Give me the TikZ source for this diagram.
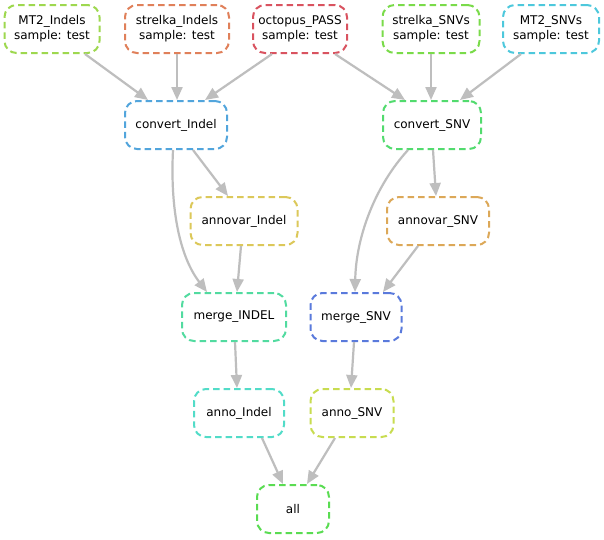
\documentclass[tikz,border=0pt]{standalone}
\usepackage{fontspec}
\setmainfont{DejaVu Sans}
\usetikzlibrary{arrows.meta}
\definecolor{cMTi}{HTML}{9ED84F}
\definecolor{cSTi}{HTML}{E0805A}
\definecolor{cOCT}{HTML}{D95360}
\definecolor{cSTs}{HTML}{7ADB4A}
\definecolor{cMTs}{HTML}{4DC8DC}
\definecolor{cCVi}{HTML}{52A5DC}
\definecolor{cCVs}{HTML}{52DB6E}
\definecolor{cAVi}{HTML}{DCC85A}
\definecolor{cAVs}{HTML}{DCA858}
\definecolor{cMGi}{HTML}{52DBA0}
\definecolor{cMGs}{HTML}{5A7ADC}
\definecolor{cANi}{HTML}{52DCC8}
\definecolor{cANs}{HTML}{C8DC50}
\definecolor{cALL}{HTML}{5ADC52}
\definecolor{edgegray}{HTML}{BEBEBE}
\tikzset{
  job/.style={draw=#1, line width=2pt, dash pattern=on 6.5pt off 4pt, rounded corners=12pt,
    minimum height=48pt, inner sep=0pt, align=center, font=\fontsize{12}{15}\selectfont},
  edge/.style={draw=edgegray, line width=2.2pt, -{Triangle[length=13pt,width=11pt]}}
}
\begin{document}
\begin{tikzpicture}[x=1pt,y=-1pt]
\path[use as bounding box, fill=white] (0,0) rectangle (604,539);
\node[job=cMTi, minimum width=95pt] (mti) at (52,29) {MT2\_Indels\\sample: test};
\node[job=cSTi, minimum width=104pt] (sti) at (177,29) {strelka\_Indels\\sample: test};
\node[job=cOCT, minimum width=94pt] (oct) at (300,29) {octopus\_PASS\\sample: test};
\node[job=cSTs, minimum width=97pt] (sts) at (431,29) {strelka\_SNVs\\sample: test};
\node[job=cMTs, minimum width=96pt] (mts) at (551,29) {MT2\_SNVs\\sample: test};
\node[job=cCVi, minimum width=102pt] (cvi) at (176,125) {convert\_Indel};
\node[job=cCVs, minimum width=98pt] (cvs) at (432,125) {convert\_SNV};
\node[job=cAVi, minimum width=107pt] (avi) at (244,221) {annovar\_Indel};
\node[job=cAVs, minimum width=102pt] (avs) at (438,221) {annovar\_SNV};
\node[job=cMGi, minimum width=104pt] (mgi) at (234,317) {merge\_INDEL};
\node[job=cMGs, minimum width=91pt] (mgs) at (356,317) {merge\_SNV};
\node[job=cANi, minimum width=90pt] (ani) at (239,413) {anno\_Indel};
\node[job=cANs, minimum width=83pt] (ans) at (352,413) {anno\_SNV};
\node[job=cALL, minimum width=72pt] (all) at (293,509) {all};

\draw[edge] ([xshift=33pt]mti.south) -- ([xshift=-28pt]cvi.north);
\draw[edge] (sti.south) -- ([xshift=1pt]cvi.north);
\draw[edge] ([xshift=-28pt]oct.south) -- ([xshift=29pt]cvi.north);
\draw[edge] ([xshift=35pt]oct.south) -- ([xshift=-27pt]cvs.north);
\draw[edge] (sts.south) -- ([xshift=-1pt]cvs.north);
\draw[edge] ([xshift=-30pt]mts.south) -- ([xshift=28pt]cvs.north);
\draw[edge] ([xshift=17pt]cvi.south) -- ([xshift=-16pt]avi.north);
\draw[edge] ([xshift=-3pt]cvi.south) .. controls ([xshift=-6pt,yshift=-60pt]cvi.south) and ([xshift=-54pt,yshift=35pt]mgi.north) .. ([xshift=-27pt]mgi.north);
\draw[edge] ([xshift=-3pt]avi.south) -- ([xshift=3pt]mgi.north);
\draw[edge] ([xshift=1pt]cvs.south) -- ([xshift=-2pt]avs.north);
\draw[edge] ([xshift=-24pt]cvs.south) .. controls ([xshift=-57pt,yshift=-36pt]cvs.south) and ([xshift=0pt,yshift=55pt]mgs.north) .. ([xshift=-1pt]mgs.north);
\draw[edge] ([xshift=-20pt]avs.south) -- ([xshift=27pt]mgs.north);
\draw[edge] ([xshift=1pt]mgi.south) -- ([xshift=-2pt]ani.north);
\draw[edge] ([xshift=-2pt]mgs.south) -- ([xshift=-1pt]ans.north);
\draw[edge] ([xshift=23pt]ani.south) -- ([xshift=-10pt]all.north);
\draw[edge] ([xshift=-17pt]ans.south) -- ([xshift=14pt]all.north);
\end{tikzpicture}
\end{document}
